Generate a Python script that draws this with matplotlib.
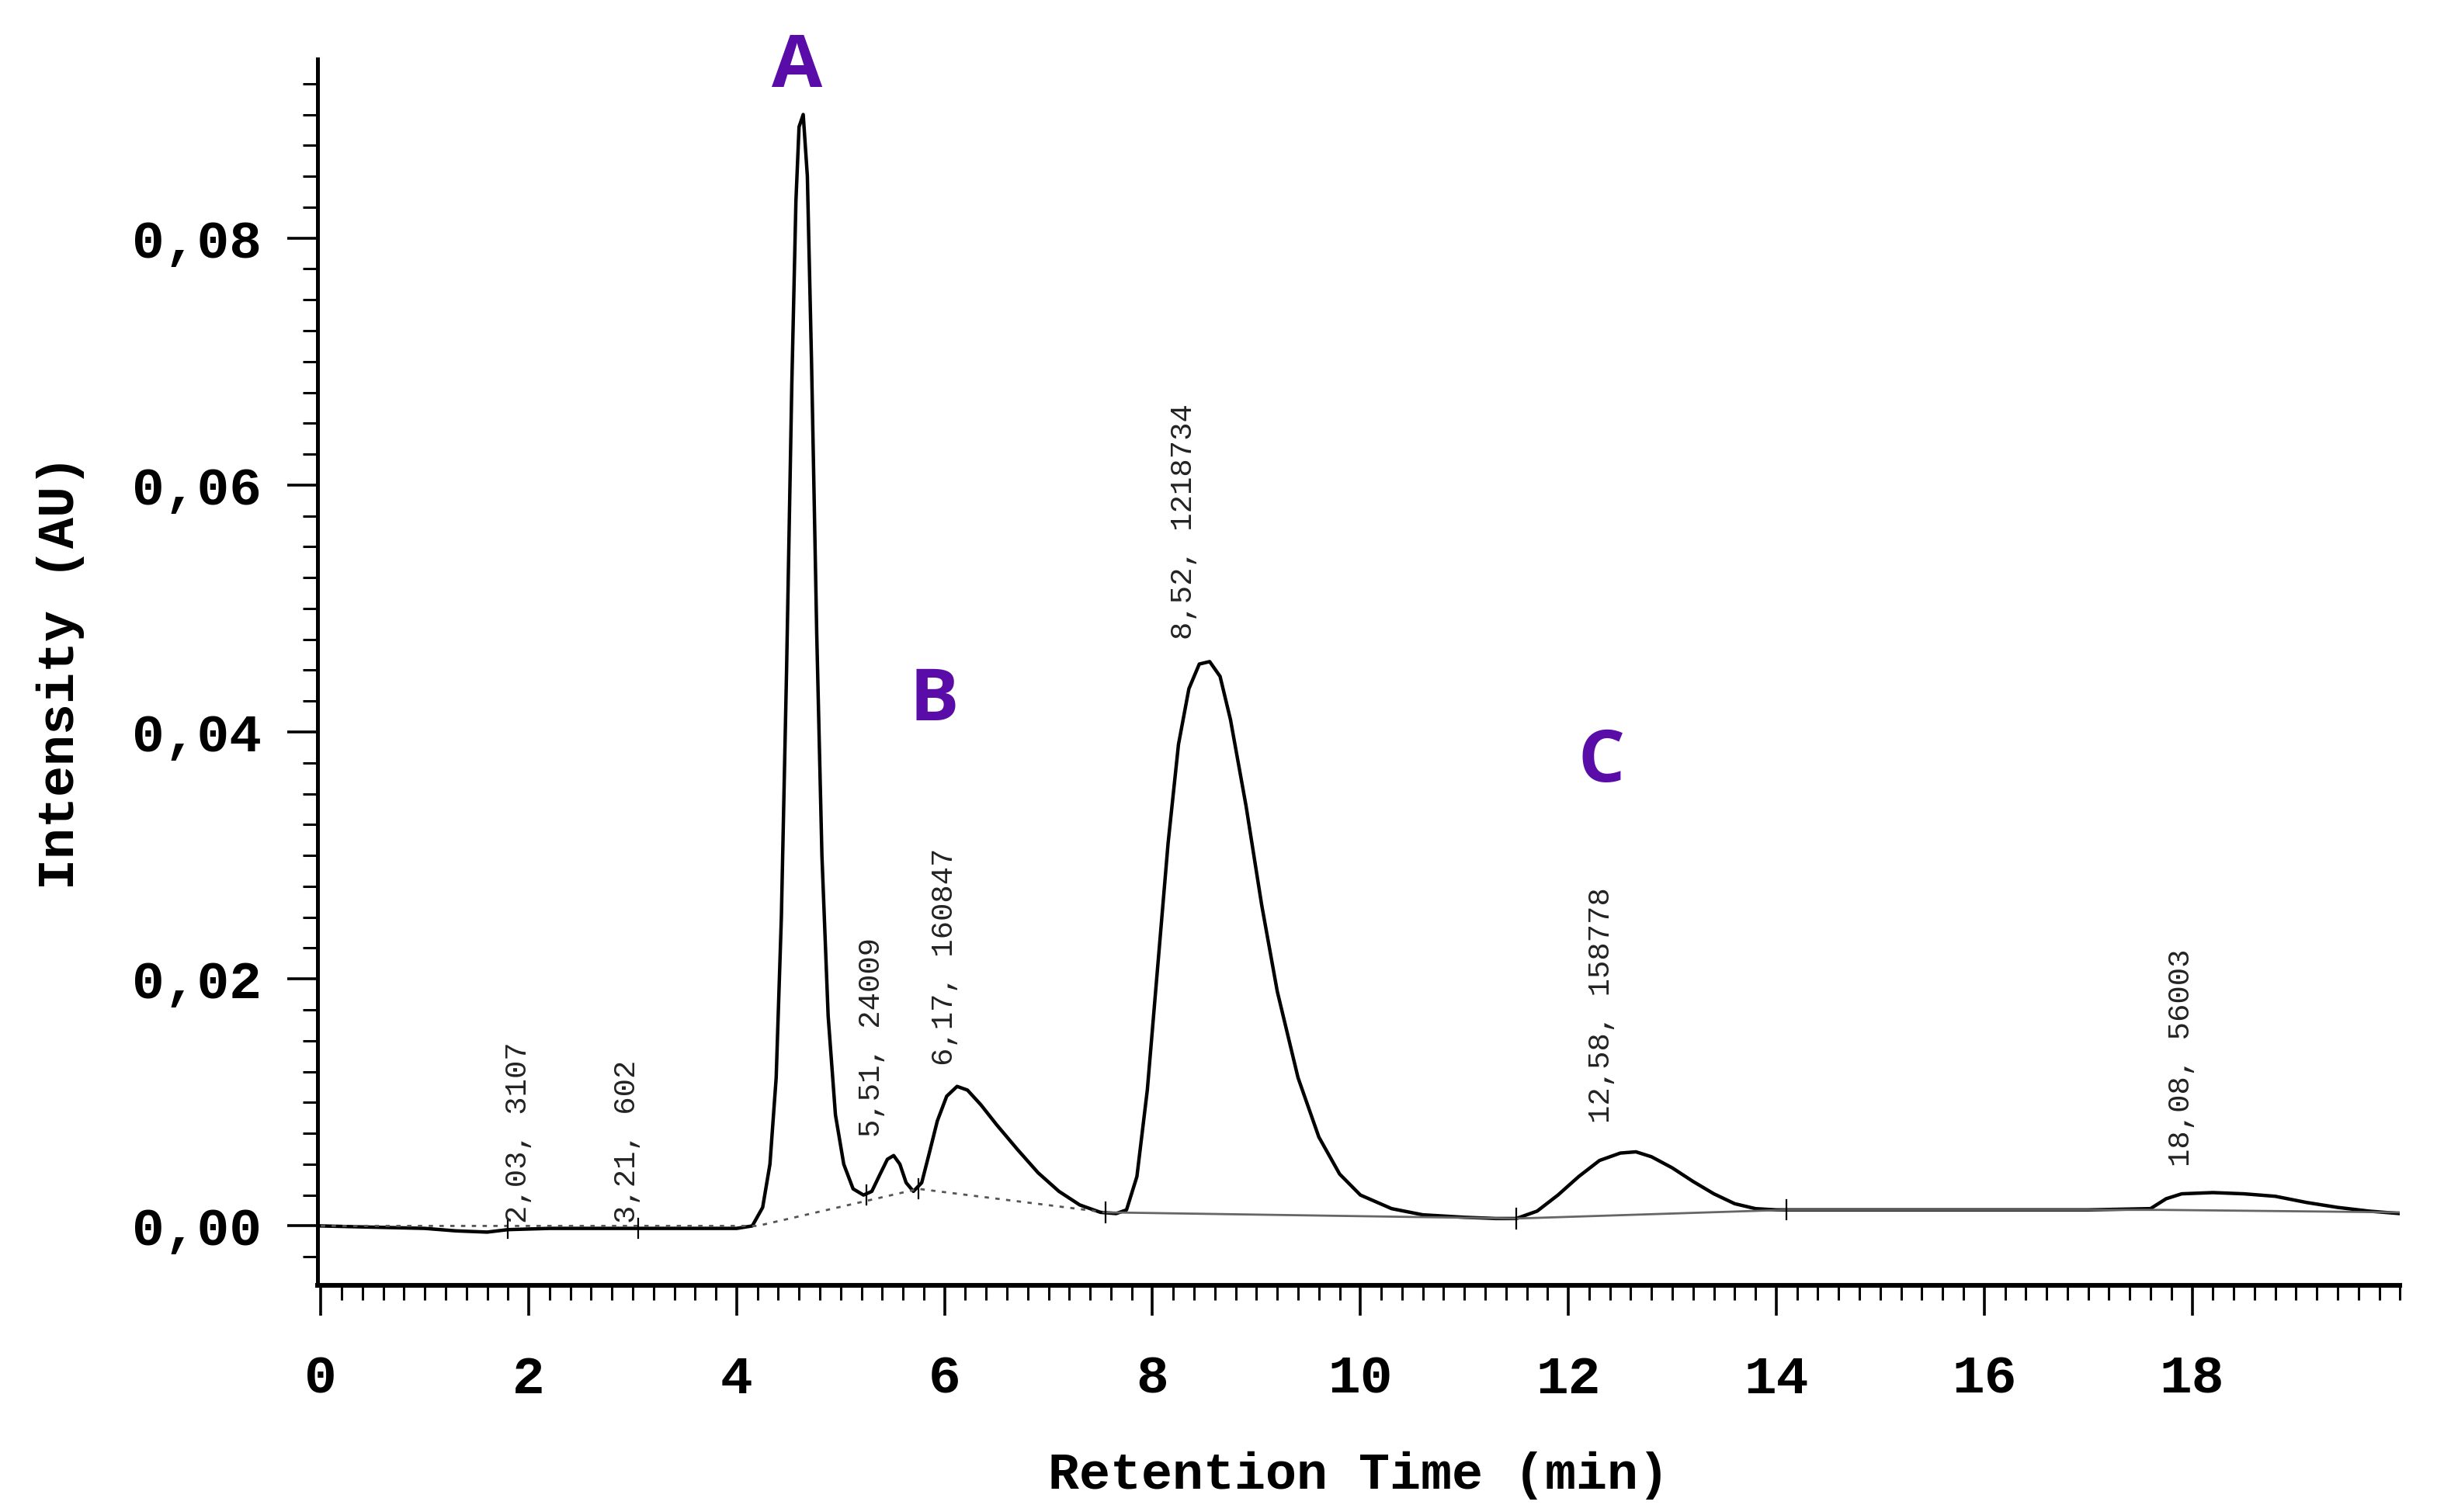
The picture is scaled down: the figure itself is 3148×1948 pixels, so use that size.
import matplotlib
matplotlib.use("Agg")
import matplotlib.pyplot as plt
from matplotlib.ticker import MultipleLocator, FuncFormatter

t = [0.0,0.5,1.0,1.3,1.6,1.8,2.2,3.0,3.5,4.0,4.15,4.25,4.32,4.38,4.43,4.48,4.53,4.57,4.60,4.64,4.68,4.72,4.77,4.82,4.88,4.95,5.03,5.12,5.22,5.30,5.38,5.45,5.51,5.57,5.63,5.70,5.78,5.85,5.93,6.02,6.12,6.22,6.35,6.5,6.7,6.9,7.1,7.3,7.5,7.65,7.75,7.85,7.95,8.05,8.15,8.25,8.35,8.45,8.55,8.65,8.75,8.9,9.05,9.2,9.4,9.6,9.8,10.0,10.3,10.6,11.0,11.3,11.5,11.7,11.9,12.1,12.3,12.5,12.65,12.8,13.0,13.2,13.4,13.6,13.8,14.0,15.0,16.0,17.0,17.6,17.75,17.9,18.2,18.5,18.8,19.1,19.4,19.7,20.0]
signal = [0.0,-0.0001,-0.0002,-0.0004,-0.0005,-0.0003,-0.0002,-0.0002,-0.0002,-0.0002,0.0,0.0015,0.005,0.012,0.025,0.045,0.068,0.083,0.089,0.090,0.085,0.070,0.048,0.030,0.017,0.009,0.005,0.003,0.0025,0.0028,0.0042,0.0054,0.0057,0.005,0.0035,0.0028,0.0035,0.0058,0.0085,0.0105,0.0113,0.011,0.0098,0.0082,0.0062,0.0043,0.0028,0.0017,0.0011,0.0010,0.0013,0.004,0.011,0.021,0.031,0.039,0.0435,0.0455,0.0457,0.0445,0.041,0.034,0.026,0.019,0.012,0.0072,0.0042,0.0025,0.0014,0.0009,0.0007,0.0006,0.0006,0.0012,0.0025,0.0040,0.0053,0.0059,0.006,0.0056,0.0047,0.0036,0.0026,0.0018,0.0014,0.0013,0.0013,0.0013,0.0013,0.0014,0.0022,0.0026,0.0027,0.0026,0.0024,0.0019,0.0015,0.0012,0.0010]

base_dash_t = [0.0,4.2,5.75,7.55]
base_dash_y = [0.0,0.0,0.003,0.0011]
base_solid_t = [7.55,11.5,14.1,17.7,20.0]
base_solid_y = [0.0011,0.0006,0.0013,0.0013,0.0011]

marks_t = [1.8,3.05,5.25,5.75,7.55,11.5,14.1]
marks_y = [-0.0002,-0.0002,0.0025,0.003,0.0011,0.0006,0.0013]

peak_labels = ["2,03, 3107","3,21, 602","5,51, 24009","6,17, 160847","8,52, 1218734","12,58, 158778","18,08, 56003"]
peak_lx = [1.9,2.95,5.3,6.0,8.3,12.32,17.9]
peak_ly = [0.0002,0.0002,0.0072,0.0130,0.0475,0.0083,0.0048]

letters = ["A","B","C"]
letter_x = [4.58,5.9,12.32]
letter_y = [0.0938,0.0425,0.0375]

mono = "Liberation Mono"
fig = plt.figure(figsize=(15.74,9.74), dpi=200)
ax = fig.add_axes([0.130,0.150,0.852,0.811])
ax.plot(t, signal, color="black", lw=1.6)
ax.plot(base_dash_t, base_dash_y, color="#555555", lw=1.0, ls=(0,(2,3)))
ax.plot(base_solid_t, base_solid_y, color="#666666", lw=1.0)
for mx, my in zip(marks_t, marks_y):
    ax.plot([mx,mx],[my-0.0008,my+0.0008], color="black", lw=0.8)
for s, x, y in zip(peak_labels, peak_lx, peak_ly):
    ax.text(x, y, s, rotation=90, ha="center", va="bottom", fontsize=14, family=mono, color="#222222")
for s, x, y in zip(letters, letter_x, letter_y):
    ax.text(x, y, s, ha="center", va="center", fontsize=34, fontweight="bold", color="#5a0ca8", family="Open Sans")

ax.set_xlim(-0.03, 20.0)
ax.set_ylim(-0.0048, 0.0945)
for sp in ["top","right"]:
    ax.spines[sp].set_visible(False)
ax.spines["left"].set_linewidth(1.8)
ax.spines["bottom"].set_linewidth(2.2)
ax.xaxis.set_minor_locator(MultipleLocator(0.2))
ax.yaxis.set_major_locator(MultipleLocator(0.02))
ax.yaxis.set_minor_locator(MultipleLocator(0.0025))
ax.yaxis.set_major_formatter(FuncFormatter(lambda v, p: f"{v:.2f}".replace(".", ",")))
ax.set_xticks([0,2,4,6,8,10,12,14,16,18])
ax.tick_params(axis="both", which="major", length=14, width=1.3, labelsize=25, direction="out")
ax.tick_params(axis="both", which="minor", length=7, width=1.1, direction="out")
for lab in ax.get_xticklabels()+ax.get_yticklabels():
    lab.set_family(mono); lab.set_fontweight("bold")
ax.tick_params(axis="x", pad=18)
ax.tick_params(axis="y", pad=12)
ax.set_xlabel("Retention Time (min)", family=mono, fontweight="bold", fontsize=24, labelpad=22)
ax.set_ylabel("Intensity (AU)", family=mono, fontweight="bold", fontsize=24, labelpad=22)
fig.savefig("out.png", dpi=200)
